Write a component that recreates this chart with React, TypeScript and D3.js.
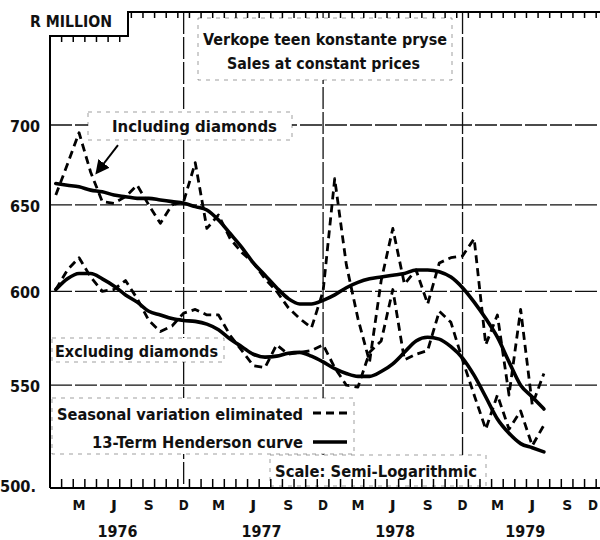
import React, { useEffect, useRef } from "react"
import * as d3 from "d3"

// month index 0 = Jan 1976
const months = d3.range(43)

// seasonally adjusted (dashed) and 13-term Henderson (solid), R million
const inclSeasonal = [656, 675, 695, 670, 652, 651, 655, 662, 650, 639, 650, 652, 676, 636, 644, 630, 622, 616, 607, 600, 591, 585, 580, 600, 666, 615, 585, 562, 606, 636, 604, 612, 593, 616, 619, 620, 630, 571, 587, 545, 590, 540, 556]
const inclHenderson = [663, 662, 661, 659, 658, 656, 655, 654, 654, 653, 652, 651, 649, 647, 641, 633, 625, 616, 609, 602, 596, 593, 593, 595, 598, 602, 605, 607, 608, 609, 610, 612, 612, 611, 608, 602, 594, 585, 575, 562, 550, 544, 538]
const exclSeasonal = [601, 612, 619, 608, 600, 601, 606, 596, 584, 578, 581, 588, 590, 587, 587, 576, 568, 560, 559, 571, 566, 567, 568, 571, 559, 550, 549, 567, 573, 601, 563, 566, 568, 589, 583, 563, 545, 528, 545, 528, 537, 520, 530]
const exclHenderson = [601, 607, 610, 610, 607, 603, 598, 594, 589, 587, 585, 584, 583.5, 582, 579, 574, 570, 566, 564.5, 565, 566.5, 567, 565, 562, 558.5, 556, 554.5, 554.5, 557, 561, 567, 573, 575, 574, 570, 564, 555, 544, 533, 526, 521, 519, 517]

const yTicks = [700, 650, 600, 550]
const monthLabels = ["M", "J", "S", "D", "M", "J", "S", "D", "M", "J", "S", "D", "M", "J", "S", "D"]
const monthLabelIdx = [2, 5, 8, 11, 14, 17, 20, 23, 26, 29, 32, 35, 38, 41, 44, 47]
const years = ["1976", "1977", "1978", "1979"]
const yearPos = [5.3, 17.7, 29.2, 40.4]
const gridMonths = [11, 23, 35, 47]

const FONT = "'DejaVu Sans', sans-serif"

const App = () => {
	const ref = useRef(null)

	useEffect(() => {
		const svg = d3.select(ref.current)
		svg.selectAll("*").remove()

		const x = d3.scaleLinear().domain([-0.5, 47.5]).range([50, 607.8])
		const y = d3.scaleLog().domain([500, 700]).range([488, 125])
		const left = 50
		const bottom = 488
		const stepX = 128

		svg.append("rect").attr("width", 600).attr("height", 540).attr("fill", "#fff")

		// grid lines
		const grid = svg.append("g").attr("stroke", "#111").attr("stroke-width", 1.3).attr("stroke-dasharray", "22,3")
		yTicks.forEach(v => {
			grid.append("line").attr("x1", left).attr("x2", 610).attr("y1", y(v)).attr("y2", y(v))
		})
		gridMonths.forEach(m => {
			grid.append("line").attr("x1", x(m)).attr("x2", x(m)).attr("y1", 12).attr("y2", bottom)
		})

		// white label boxes with faint dashed edges
		const boxes = [
			[198, 18, 254, 62],
			[88, 112, 204, 28],
			[52, 338, 172, 24],
			[52, 398, 302, 56],
			[270, 455, 216, 31],
		]
		boxes.forEach(([bx, by, bw, bh]) => {
			svg.append("rect").attr("x", bx).attr("y", by).attr("width", bw).attr("height", bh)
				.attr("fill", "#fff").attr("stroke", "#222").attr("stroke-width", 0.8)
				.attr("stroke-dasharray", "4,5").attr("stroke-opacity", 0.55)
		})

		// frame and ticks
		svg.append("path")
			.attr("d", `M${left},${bottom}V36H${stepX}V12H610`)
			.attr("fill", "none").attr("stroke", "#000").attr("stroke-width", 2)
		svg.append("line").attr("x1", left).attr("x2", 610).attr("y1", bottom).attr("y2", bottom)
			.attr("stroke", "#000").attr("stroke-width", 2)
		d3.range(1, 49).forEach(b => {
			const xb = x(b - 0.5)
			const top = xb < stepX ? 36 : 12
			svg.append("line").attr("x1", xb).attr("x2", xb).attr("y1", top).attr("y2", top + 6)
				.attr("stroke", "#000").attr("stroke-width", 1.5)
			svg.append("line").attr("x1", xb).attr("x2", xb).attr("y1", bottom).attr("y2", bottom - 9)
				.attr("stroke", "#000").attr("stroke-width", 1.5)
		})

		// series
		const smooth = d3.line().x((_, i) => x(months[i])).y(d => y(d)).curve(d3.curveMonotoneX)
		const straight = d3.line().x((_, i) => x(months[i])).y(d => y(d))
		;[inclHenderson, exclHenderson].forEach(s => {
			svg.append("path").datum(s).attr("d", smooth).attr("fill", "none")
				.attr("stroke", "#000").attr("stroke-width", 3.6).attr("stroke-linecap", "round")
		})
		;[inclSeasonal, exclSeasonal].forEach(s => {
			svg.append("path").datum(s).attr("d", straight).attr("fill", "none")
				.attr("stroke", "#000").attr("stroke-width", 2.8).attr("stroke-dasharray", "8,5")
				.attr("stroke-linejoin", "round")
		})

		// arrow to the including-diamonds series
		svg.append("defs").append("marker").attr("id", "ah").attr("viewBox", "0 0 10 10")
			.attr("refX", 8).attr("refY", 5).attr("markerWidth", 7).attr("markerHeight", 7)
			.attr("orient", "auto").append("path").attr("d", "M0,0L10,5L0,10z").attr("fill", "#000")
		svg.append("line").attr("x1", x(5.35)).attr("y1", y(687)).attr("x2", x(3.55)).attr("y2", y(670))
			.attr("stroke", "#000").attr("stroke-width", 2).attr("marker-end", "url(#ah)")

		// texts
		const text = (t, tx, ty, size, len, anchor = "start") =>
			svg.append("text").attr("x", tx).attr("y", ty).attr("text-anchor", anchor)
				.attr("font-family", FONT).attr("font-weight", "bold").attr("font-size", size)
				.attr("fill", "#111").attr("textLength", len).attr("lengthAdjust", "spacingAndGlyphs").text(t)

		text("R MILLION", 30, 27, 15, 82)
		text("Verkope teen konstante pryse", 203, 45, 15, 244)
		text("Sales at constant prices", 227, 69, 15, 193)
		text("Including diamonds", 112, 132, 15, 165)
		text("Excluding diamonds", 55, 357, 15, 163)
		text("Seasonal variation eliminated", 57, 420, 15, 246)
		text("13-Term Henderson curve", 92, 448, 15, 211)
		text("Scale: Semi-Logarithmic", 275, 477, 15, 202)

		// legend samples
		svg.append("line").attr("x1", 313).attr("x2", 350).attr("y1", 413).attr("y2", 413)
			.attr("stroke", "#000").attr("stroke-width", 2.8).attr("stroke-dasharray", "8,5")
		svg.append("line").attr("x1", 313).attr("x2", 347).attr("y1", 442).attr("y2", 442)
			.attr("stroke", "#000").attr("stroke-width", 3.6)

		yTicks.forEach(v => text(String(v), 40, y(v) + 7, 15, 30, "end"))
		text("500.", 0, 492, 15, 36)

		monthLabels.forEach((l, i) =>
			text(l, Math.min(x(monthLabelIdx[i]), 593), 510, 14, l === "M" ? 13 : l === "J" ? 6 : 10, "middle"))
		years.forEach((l, i) => text(l, x(yearPos[i]), 537, 15, 40, "middle"))
	}, [])

	return (
		<svg ref={ref} width={600} height={540}
			style={{ position: "absolute", left: 0, top: 0, display: "block" }} />
	)
}

export default App
